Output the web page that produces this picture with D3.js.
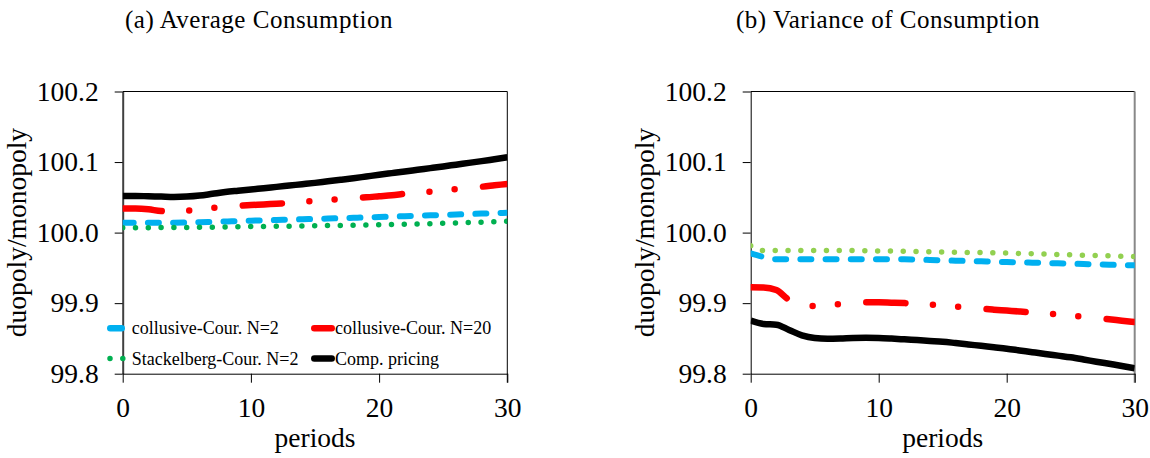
<!DOCTYPE html>
<html>
<head>
<meta charset="utf-8">
<script src="https://cdn.jsdelivr.net/npm/d3@7"></script>
<style>
  html, body { margin: 0; padding: 0; background: #fff; }
  svg { display: block; }
  text { font-family: "Liberation Serif", "Times New Roman", serif; fill: #000; }
</style>
</head>
<body>
<svg id="chart" width="1150" height="458"></svg>
<script>
// ---------------- data ----------------
const periods = d3.range(0, 31);
const xTicks = [0, 10, 20, 30];
const yTicks = [99.8, 99.9, 100.0, 100.1, 100.2];
const panelTitles = ["(a) Average Consumption", "(b) Variance of Consumption"];
const yAxisTitle = "duopoly/monopoly";
const xAxisTitle = "periods";
const seriesNames = ["collusive-Cour. N=2", "collusive-Cour. N=20", "Stackelberg-Cour. N=2", "Comp. pricing"];

// (a) Average Consumption
const collusiveN2Avg = [100.014,100.014,100.014,100.014,100.014,100.0143,100.0147,100.0152,100.0158,100.0163,100.0169,100.0174,100.0179,100.0184,100.0189,100.0194,100.0199,100.0204,100.021,100.0215,100.0221,100.0227,100.0233,100.0239,100.0245,100.0251,100.0257,100.0263,100.0269,100.0275,100.0282];
const collusiveN20Avg = [100.034,100.034,100.033,100.0305,100.030,100.031,100.033,100.035,100.0365,100.038,100.039,100.040,100.041,100.042,100.0435,100.045,100.046,100.0475,100.049,100.050,100.0515,100.053,100.055,100.0567,100.058,100.060,100.0618,100.0635,100.065,100.067,100.069];
const stackelbergAvg = [100.007,100.007,100.007,100.0071,100.0072,100.0073,100.0075,100.0077,100.0079,100.0082,100.0085,100.0087,100.0089,100.0091,100.0094,100.0097,100.0099,100.0102,100.0105,100.0108,100.0111,100.0115,100.0119,100.0123,100.0127,100.0132,100.0137,100.0142,100.0148,100.0155,100.0163];
const compPricingAvg = [100.052,100.052,100.0515,100.051,100.0505,100.051,100.0525,100.055,100.0575,100.0593,100.061,100.063,100.0648,100.0667,100.0686,100.0705,100.0727,100.0748,100.077,100.0795,100.082,100.0843,100.0866,100.089,100.0914,100.0938,100.0963,100.0988,100.1013,100.104,100.1067];

// (b) Variance of Consumption
const collusiveN2Var = [99.9706,99.9655,99.9622,99.9622,99.9622,99.9622,99.9622,99.9622,99.9622,99.9622,99.9622,99.9622,99.9622,99.9618,99.9612,99.9607,99.9602,99.9598,99.9593,99.9588,99.9583,99.9579,99.9574,99.957,99.9565,99.956,99.9555,99.955,99.9545,99.954,99.9536];
const collusiveN20Var = [99.9224,99.9222,99.9186,99.9045,99.8975,99.896,99.8972,99.8988,99.9005,99.9012,99.9011,99.9007,99.9001,99.8992,99.898,99.8968,99.8952,99.8937,99.8922,99.8908,99.8895,99.8882,99.8868,99.8853,99.884,99.8825,99.8808,99.879,99.8772,99.8752,99.8733];
const stackelbergVar = [99.9815,99.9745,99.9745,99.9745,99.9745,99.9745,99.9745,99.9745,99.9745,99.9743,99.974,99.9738,99.9735,99.9732,99.9728,99.9725,99.9722,99.9719,99.9716,99.9713,99.971,99.9705,99.97,99.9695,99.969,99.9685,99.968,99.9675,99.967,99.9665,99.966];
const compPricingVar = [99.8752,99.8705,99.8695,99.862,99.8544,99.8506,99.8497,99.85,99.8506,99.8508,99.8506,99.8498,99.8487,99.8476,99.8465,99.8454,99.8435,99.8415,99.8395,99.8375,99.8355,99.833,99.8305,99.828,99.8256,99.8232,99.8202,99.817,99.814,99.811,99.8077];

// ---------------- styles ----------------
const styles = [
  { color: "#00B0F0", width: 6,   dash: "11,14.2",                   cap: "round" },
  { color: "#FF0000", width: 6.5, dash: "39.2,27.5,0,25.3,0,28.5",   cap: "round" },
  { color: "#00B050", width: 5.5, dash: "0,12.8",                    cap: "round" },
  { color: "#000000", width: 6.5, dash: null,                        cap: "butt"  }
];

const svg = d3.select("#chart");
svg.append("rect").attr("width", 1150).attr("height", 458).attr("fill", "#fff");

const plotTop = 91.5, plotBottom = 373.7;
const panels = [
  { x0: 122.7, x1: 507.3, title: panelTitles[0], titleX: 259,
    series: [collusiveN2Avg, collusiveN20Avg, stackelbergAvg, compPricingAvg],
    greenColor: "#00B050", leftAxisColor: "#404040", leftAxisWidth: 2,
    rightColor: "#000", rightWidth: 1, legend: true },
  { x0: 750.7, x1: 1134.7, title: panelTitles[1], titleX: 888,
    series: [collusiveN2Var, collusiveN20Var, stackelbergVar, compPricingVar],
    greenColor: "#92D050", leftAxisColor: "#000", leftAxisWidth: 1,
    rightColor: "#888", rightWidth: 2, legend: false }
];

panels.forEach((p, pi) => {
  const g = svg.append("g");
  const x = d3.scaleLinear().domain([0, 30]).range([p.x0, p.x1]);
  const y = d3.scaleLinear().domain([99.8, 100.2]).range([plotBottom, plotTop]);

  // title
  g.append("text").attr("x", p.titleX).attr("y", 28.3)
    .attr("text-anchor", "middle").style("font-size", "25px").style("letter-spacing", "0.5px")
    .text(p.title);

  // border (top + right)
  g.append("line").attr("x1", p.x0).attr("x2", p.x1).attr("y1", plotTop).attr("y2", plotTop)
    .attr("stroke", "#000").attr("stroke-width", 1);
  g.append("line").attr("x1", p.x1).attr("x2", p.x1).attr("y1", plotTop).attr("y2", plotBottom + 9)
    .attr("stroke", p.rightColor).attr("stroke-width", p.rightWidth);

  // y axis
  const ya = g.append("g").attr("transform", `translate(${p.x0},0)`)
    .call(d3.axisLeft(y).tickValues(yTicks).tickFormat(d3.format(".1f"))
      .tickSize(8).tickSizeOuter(0).tickPadding(16));
  ya.select(".domain").attr("stroke", p.leftAxisColor).attr("stroke-width", p.leftAxisWidth);
  ya.selectAll(".tick line").attr("stroke", "#000");
  ya.selectAll(".tick text").style("font-size", "27.5px")
    .style("font-family", '"Liberation Serif", serif').attr("fill", "#000");

  // x axis
  const xa = g.append("g").attr("transform", `translate(0,${plotBottom})`)
    .call(d3.axisBottom(x).tickValues(xTicks).tickFormat(d3.format("d"))
      .tickSize(9).tickSizeOuter(0).tickPadding(15));
  xa.select(".domain").attr("stroke", "#000").attr("stroke-width", 1);
  xa.selectAll(".tick line").attr("stroke", "#000");
  xa.selectAll(".tick text").style("font-size", "27.5px")
    .style("font-family", '"Liberation Serif", serif').attr("fill", "#000");

  // axis titles
  g.append("text").attr("transform", `translate(${p.x0 - 96.7},${(plotTop + plotBottom) / 2}) rotate(-90)`)
    .attr("text-anchor", "middle").style("font-size", "27.5px").text(yAxisTitle);
  g.append("text").attr("x", (p.x0 + p.x1) / 2).attr("y", 447.3)
    .attr("text-anchor", "middle").style("font-size", "27.5px").text(xAxisTitle);

  // clip
  const clipId = "clip" + pi;
  svg.append("clipPath").attr("id", clipId).append("rect")
    .attr("x", p.x0).attr("y", 0).attr("width", p.x1 - p.x0).attr("height", 458);

  const line = d3.line().x((d, i) => x(periods[i])).y(d => y(d)).curve(d3.curveMonotoneX);
  const lg = g.append("g").attr("clip-path", `url(#${clipId})`);
  p.series.forEach((s, si) => {
    const st = styles[si];
    lg.append("path").datum(s).attr("d", line)
      .attr("fill", "none")
      .attr("stroke", si === 2 ? p.greenColor : st.color)
      .attr("stroke-width", st.width)
      .attr("stroke-linecap", st.cap)
      .attr("stroke-linejoin", "round")
      .attr("stroke-dasharray", st.dash);
  });

  // legend
  if (p.legend) {
    const items = [
      { si: 0, sx: 110.3, ex: 121.7, cy: 328.3, tx: 131.7, ty: 334 },
      { si: 1, sx: 314.3, ex: 331.7, cy: 328.3, tx: 335,   ty: 334 },
      { si: 2, sx: 110,   ex: 122.9, cy: 358.5, tx: 131.7, ty: 364.5 },
      { si: 3, sx: 314.3, ex: 331.7, cy: 358.5, tx: 335,   ty: 364.5 }
    ];
    const leg = g.append("g");
    items.forEach(it => {
      const st = styles[it.si];
      leg.append("line").attr("x1", it.sx).attr("x2", it.ex).attr("y1", it.cy).attr("y2", it.cy)
        .attr("stroke", it.si === 2 ? p.greenColor : st.color)
        .attr("stroke-width", it.si === 2 ? 5.5 : 6.5)
        .attr("stroke-linecap", "round")
        .attr("stroke-dasharray", it.si === 2 ? "0,12.8" : null);
      leg.append("text").attr("x", it.tx).attr("y", it.ty)
        .style("font-size", "18px").text(seriesNames[it.si]);
    });
  }
});
</script>
</body>
</html>
